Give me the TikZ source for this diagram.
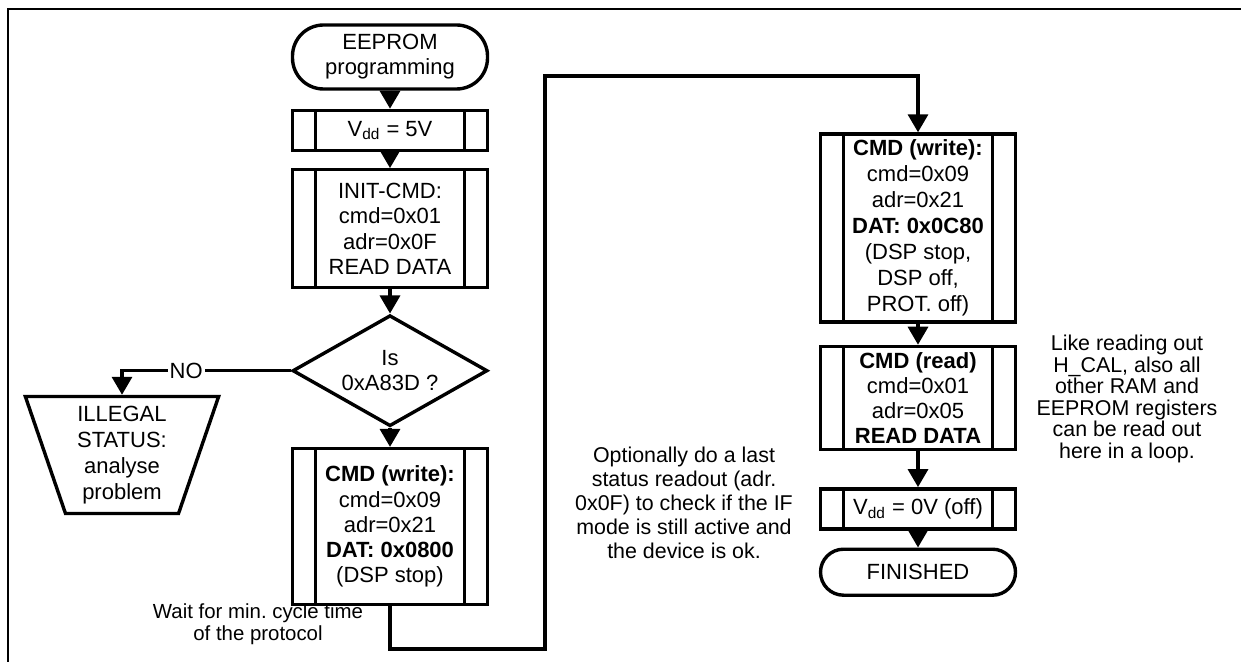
\documentclass[tikz,border=0pt]{standalone}
\usepackage{fontspec}
\setmainfont{Liberation Sans}
\usetikzlibrary{shapes.geometric, positioning, arrows.meta}
\frenchspacing

\begin{document}
\begin{tikzpicture}[x=0.5pt, y=-0.5pt,
                >={Triangle[length=9pt,width=10pt]},
                line width=1.7pt,
                node distance=9pt,
                font=\fontsize{11}{12.6}\selectfont,
                proc/.style={rectangle, draw=black, minimum width=97.5pt, align=center, inner sep=1pt,
                    path picture={
                        \draw ([xshift=11.5pt]path picture bounding box.north west) -- ([xshift=11.5pt]path picture bounding box.south west)
                              ([xshift=-11.5pt]path picture bounding box.north east) -- ([xshift=-11.5pt]path picture bounding box.south east);}},
                term/.style={rectangle, rounded corners=11.5pt, draw=black, minimum width=97.5pt, align=center},
                decision/.style={diamond, draw=black, minimum width=97.5pt, minimum height=55.5pt, inner sep=0pt, aspect=1.75, align=center},
                badend/.style={trapezium, shape border rotate=180, trapezium angle=72, trapezium stretches=true, draw=black,
                    minimum width=97pt, minimum height=58.5pt, inner sep=0pt, align=center, font=\fontsize{11}{13}\selectfont},
                note/.style={align=center, font=\fontsize{10.7}{12}\selectfont}
                ]
                \useasboundingbox (0,0) rectangle (1241,662);

                % Frame
                \draw[line width=1.3pt] (8,662) -- (8,9) -- (1241,9);

                % Nodes
                \node[term, rounded corners=15.5pt, minimum height=32pt] (start) at (390,57) {EEPROM\\programming};
                \node[proc, minimum height=20pt] (vdd5) [below=9pt of start] {V\textsubscript{dd} = 5V};
                \node[proc, minimum height=59pt] (init) [below=8pt of vdd5] {INIT-CMD:\\cmd=0x01\\adr=0x0F\\READ DATA};
                \node[decision] (dec) [below=12pt of init] {Is\\0xA83D ?};
                \node[proc, minimum height=78pt] (write1) [below=9.5pt of dec] {\textbf{CMD (write):}\\cmd=0x09\\adr=0x21\\\textbf{DAT: 0x0800}\\(DSP stop)};
                \node[badend] (illegal) at (122,455) {ILLEGAL\\STATUS:\\analyse\\problem};

                \node[proc, minimum height=94pt, inner sep=0pt, font=\fontsize{11}{13}\selectfont] (write2) at (918,228) {\textbf{CMD (write):}\\cmd=0x09\\adr=0x21\\\textbf{DAT: 0x0C80}\\(DSP stop,\\DSP off,\\PROT. off)};
                \node[proc, minimum height=51.5pt] (read) [below=10.5pt of write2] {\textbf{CMD (read)}\\cmd=0x01\\adr=0x05\\\textbf{READ DATA}};
                \node[proc, minimum height=20pt] (vdd0) [below=18pt of read] {V\textsubscript{dd} = 0V (off)};
                \node[term, minimum height=23pt] (finish) [below=8.5pt of vdd0] {FINISHED};

                % Notes
                \node[note, font=\fontsize{10.2}{11}\selectfont] (waitnote) at (258,624) {Wait for min. cycle time\\of the protocol};
                \node[note] (optnote) at (684,503) {Optionally do a last\\status readout (adr.\\0x0F) to check if the IF\\mode is still active and\\the device is ok.};
                \node[note, font=\fontsize{10.7}{10.8}\selectfont] (likenote) at (1127,399) {Like reading out\\H\_CAL, also all\\other RAM and\\EEPROM registers\\can be read out\\here in a loop.};

                % Paths
                \path[->]
                (start) edge (vdd5)
                (vdd5) edge (init)
                (init) edge (dec)
                (dec) edge (write1)
                (write2) edge (read)
                (read) edge (vdd0)
                (vdd0) edge (finish);
                \draw[->] (dec.west) -| node[pos=0.31, fill=white, inner sep=1pt] {NO} (illegal.north);

                \coordinate (low) at (545,649);
                \coordinate (high) at (545,76);
                \draw[->] (write1.south) |- (low) -- (high) -| (write2.north);
\end{tikzpicture}
\end{document}
